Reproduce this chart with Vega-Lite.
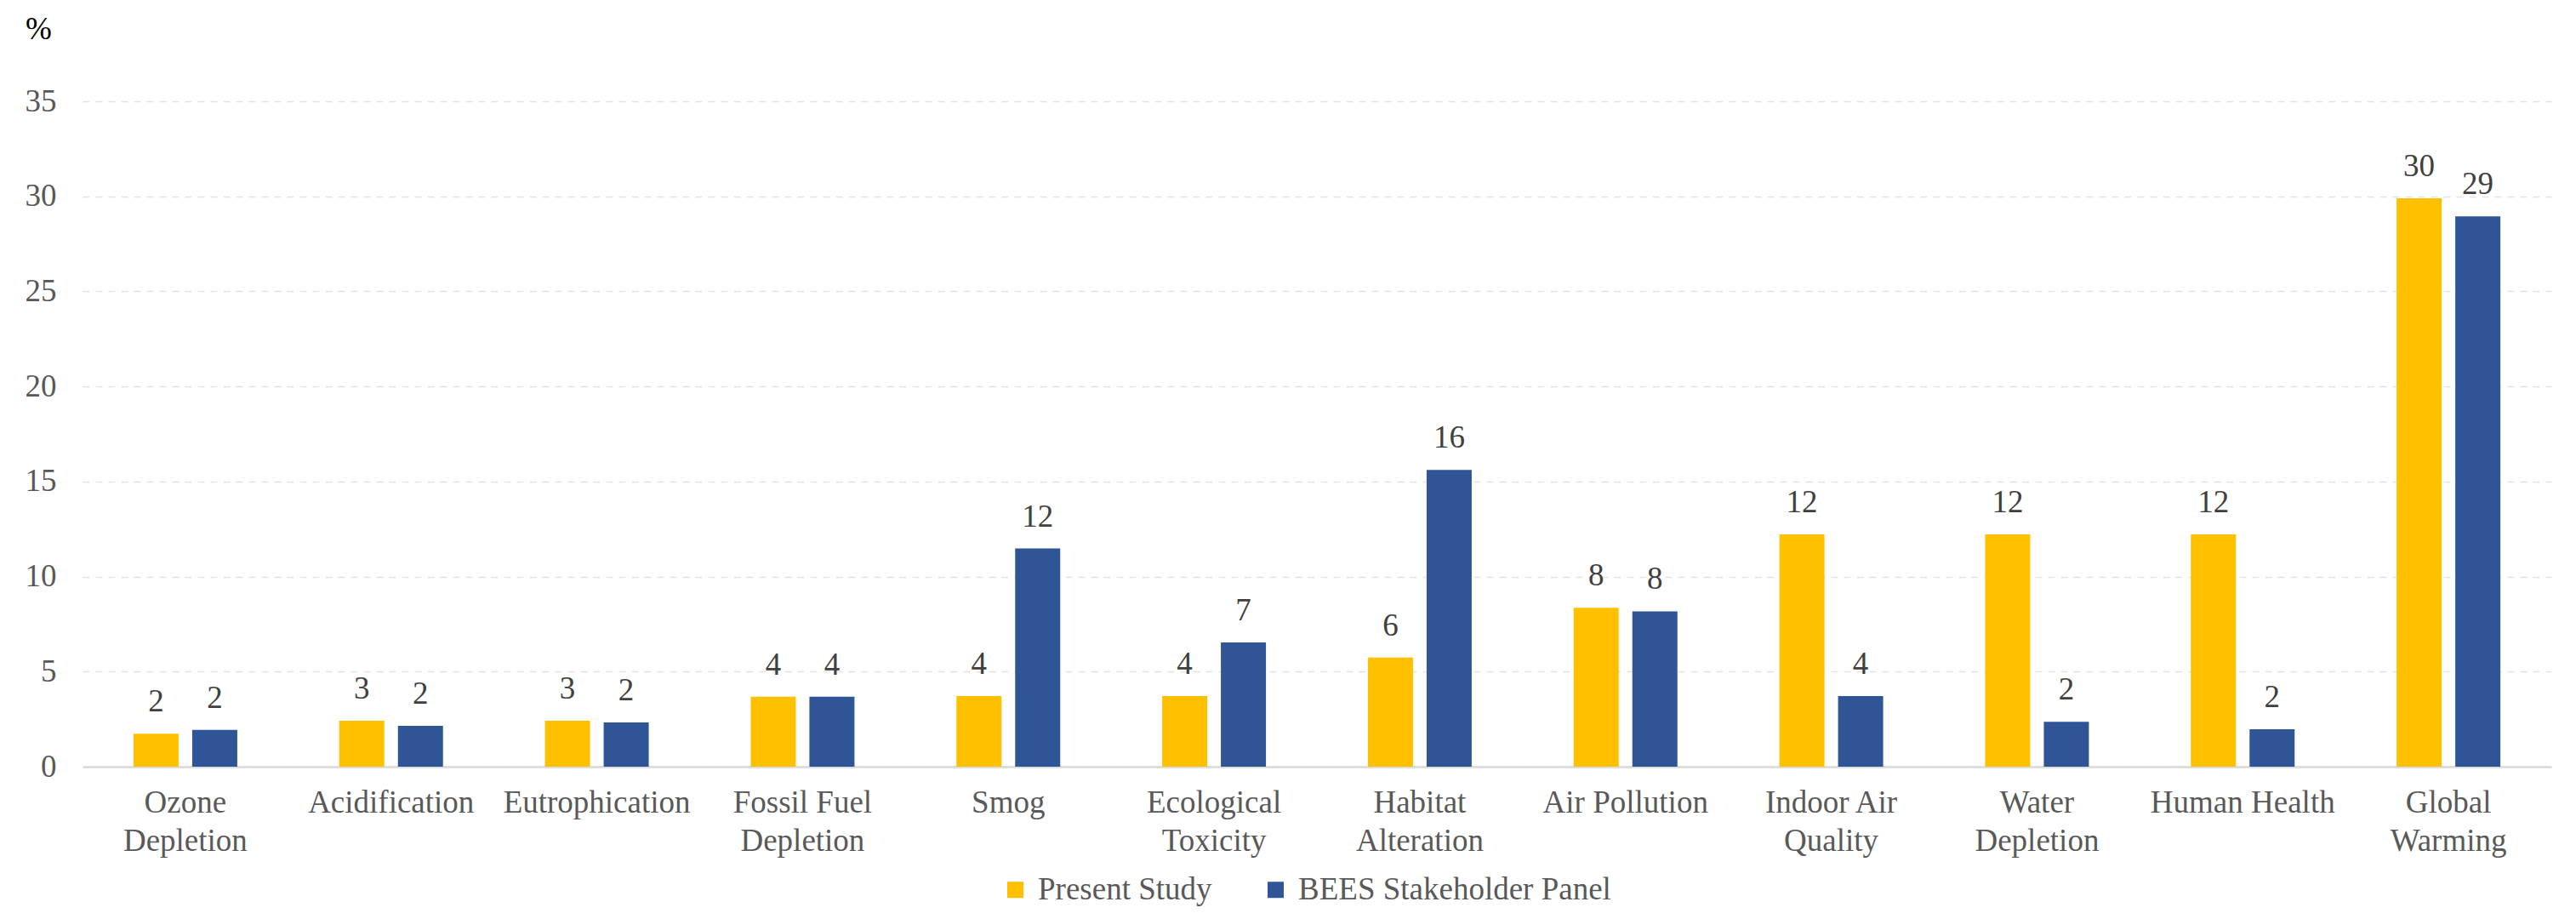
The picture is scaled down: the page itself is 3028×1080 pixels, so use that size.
{
  "$schema": "https://vega.github.io/schema/vega-lite/v6.json",
  "description": "Weighting of impact categories: Present Study vs BEES Stakeholder Panel.",
  "autosize": {"type": "none"},
  "padding": {"left": 97, "top": 119, "right": 29, "bottom": 179},
  "width": 2902,
  "height": 782,
  "background": "white",
  "data": {
    "values": [
      {"category": "Ozone Depletion", "series": "Present Study", "value": 1.73, "label": "2"},
      {"category": "Ozone Depletion", "series": "BEES Stakeholder Panel", "value": 1.94, "label": "2"},
      {"category": "Acidification", "series": "Present Study", "value": 2.42, "label": "3"},
      {"category": "Acidification", "series": "BEES Stakeholder Panel", "value": 2.15, "label": "2"},
      {"category": "Eutrophication", "series": "Present Study", "value": 2.42, "label": "3"},
      {"category": "Eutrophication", "series": "BEES Stakeholder Panel", "value": 2.33, "label": "2"},
      {"category": "Fossil Fuel Depletion", "series": "Present Study", "value": 3.68, "label": "4"},
      {"category": "Fossil Fuel Depletion", "series": "BEES Stakeholder Panel", "value": 3.68, "label": "4"},
      {"category": "Smog", "series": "Present Study", "value": 3.72, "label": "4"},
      {"category": "Smog", "series": "BEES Stakeholder Panel", "value": 11.48, "label": "12"},
      {"category": "Ecological Toxicity", "series": "Present Study", "value": 3.72, "label": "4"},
      {"category": "Ecological Toxicity", "series": "BEES Stakeholder Panel", "value": 6.53, "label": "7"},
      {"category": "Habitat Alteration", "series": "Present Study", "value": 5.74, "label": "6"},
      {"category": "Habitat Alteration", "series": "BEES Stakeholder Panel", "value": 15.61, "label": "16"},
      {"category": "Air Pollution", "series": "Present Study", "value": 8.36, "label": "8"},
      {"category": "Air Pollution", "series": "BEES Stakeholder Panel", "value": 8.17, "label": "8"},
      {"category": "Indoor Air Quality", "series": "Present Study", "value": 12.22, "label": "12"},
      {"category": "Indoor Air Quality", "series": "BEES Stakeholder Panel", "value": 3.72, "label": "4"},
      {"category": "Water Depletion", "series": "Present Study", "value": 12.22, "label": "12"},
      {"category": "Water Depletion", "series": "BEES Stakeholder Panel", "value": 2.36, "label": "2"},
      {"category": "Human Health", "series": "Present Study", "value": 12.22, "label": "12"},
      {"category": "Human Health", "series": "BEES Stakeholder Panel", "value": 1.97, "label": "2"},
      {"category": "Global Warming", "series": "Present Study", "value": 29.9, "label": "30"},
      {"category": "Global Warming", "series": "BEES Stakeholder Panel", "value": 28.95, "label": "29"}
    ]
  },
  "encoding": {
    "x": {
      "field": "category",
      "type": "nominal",
      "sort": null,
      "title": null,
      "scale": {"paddingInner": 0.4955, "paddingOuter": 0.2477},
      "axis": {
        "labelAngle": 0,
        "labelFont": "Liberation Serif",
        "labelFontSize": 37,
        "labelColor": "#595959",
        "labelLineHeight": 45,
        "labelPadding": 24,
        "labelLimit": 0,
        "labelExpr": "indexof(datum.value, ' ') < 0 || indexof(['Air Pollution', 'Human Health'], datum.value) >= 0 ? datum.value : [substring(datum.value, 0, lastindexof(datum.value, ' ')), substring(datum.value, lastindexof(datum.value, ' ') + 1)]",
        "ticks": false,
        "domainColor": "#D9D9D9",
        "domainWidth": 2.5,
        "grid": false
      }
    },
    "xOffset": {
      "field": "series",
      "type": "nominal",
      "sort": ["Present Study", "BEES Stakeholder Panel"],
      "scale": {"paddingInner": 0.232, "paddingOuter": 0}
    },
    "y": {
      "field": "value",
      "type": "quantitative",
      "scale": {"domain": [0, 35], "nice": false},
      "axis": {
        "values": [0, 5, 10, 15, 20, 25, 30, 35],
        "title": "%",
        "titleAngle": 0,
        "titleX": -52,
        "titleY": -85,
        "titleAlign": "center",
        "titleBaseline": "middle",
        "titleFont": "Liberation Serif",
        "titleFontSize": 37,
        "titleFontWeight": "normal",
        "titleColor": "#000000",
        "labelFont": "Liberation Serif",
        "labelFontSize": 37,
        "labelColor": "#595959",
        "labelPadding": 31,
        "domain": false,
        "ticks": false,
        "gridColor": "#E3E3E3",
        "gridWidth": 1.5,
        "gridDash": [8, 7]
      }
    }
  },
  "layer": [
    {
      "mark": {"type": "bar"},
      "encoding": {
        "color": {
          "field": "series",
          "type": "nominal",
          "sort": ["Present Study", "BEES Stakeholder Panel"],
          "scale": {
            "domain": ["Present Study", "BEES Stakeholder Panel"],
            "range": ["#FFC000", "#2F5597"]
          },
          "legend": {
            "title": null,
            "orient": "none",
            "direction": "horizontal",
            "legendX": 1078,
            "legendY": 908,
            "symbolType": "square",
            "symbolSize": 361,
            "symbolStrokeWidth": 0,
            "labelFont": "Liberation Serif",
            "labelFontSize": 37,
            "labelColor": "#595959",
            "labelLimit": 0,
            "labelOffset": 8,
            "columnPadding": 56
          }
        }
      }
    },
    {
      "mark": {
        "type": "text",
        "baseline": "alphabetic",
        "dy": -26,
        "font": "Liberation Serif",
        "fontSize": 37,
        "color": "#404040"
      },
      "encoding": {
        "text": {"field": "label", "type": "nominal"}
      }
    }
  ],
  "config": {
    "view": {"stroke": null}
  }
}
